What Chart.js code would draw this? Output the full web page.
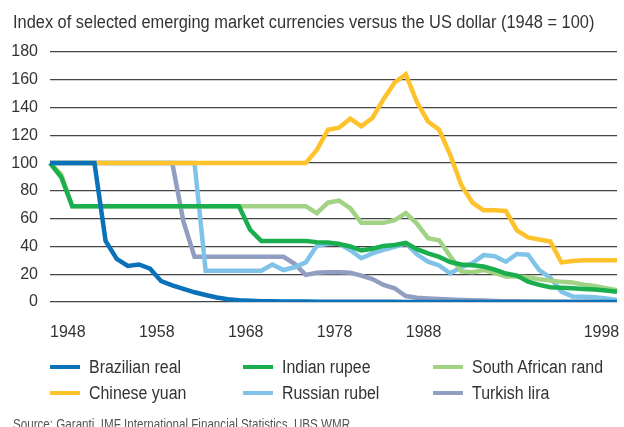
<!DOCTYPE html>
<html>
<head>
<meta charset="utf-8">
<script src="https://cdn.jsdelivr.net/npm/chart.js@4.4.0/dist/chart.umd.min.js"></script>
<style>
  html, body { margin: 0; padding: 0; background: #fff; }
  #wrap { position: relative; width: 624px; height: 427px; overflow: hidden; background: #fff; }
  #c { position: absolute; left: 0; top: 0; }
  .txt { position: absolute; font-family: 'Liberation Sans', Arial, sans-serif; color: #333; white-space: nowrap; line-height: 1; transform-origin: 0 0; }
  #title { left: 13px; top: 13px; font-size: 18px; transform: scaleX(0.91); }
  #source { left: 13px; top: 417px; font-size: 14px; color: #555; transform: scaleX(0.83); }
  .leg { position: absolute; height: 20px; }
  .leg .sw { position: absolute; left: 0; top: 8px; width: 30px; height: 4px; }
  .leg .lt { position: absolute; left: 39px; top: 1px; font-size: 18px; transform: scaleX(0.885); }
</style>
</head>
<body>
<div id="wrap">
  <canvas id="c" width="624" height="427" style="width:624px;height:427px"></canvas>
  <div id="title" class="txt">Index of selected emerging market currencies versus the US dollar (1948 = 100)</div>
  <div id="legend"></div>
  <div id="source" class="txt">Source: Garanti, IMF International Financial Statistics, UBS WMR</div>
</div>
<script>
// ---- Data ----
const categories = ['1948','','','','','','','','1958','','','','','','','','1968','','','','','','','','1978','','','','','','','','1988','','','','','','','','','','','','','','','','1998','','',''];

const seriesNames = ['Brazilian real','Indian rupee','South African rand','Chinese yuan','Russian rubel','Turkish lira'];

const brazilianReal = [100,100,100,100,100,44,31,26,27,24,15,12,9.5,7,5,3.3,2,1.3,0.9,0.6,0.5,0.4,0.3,0.3,0.2,0.2,0.2,0.1,0.1,0.1,0.1,0.1,0.05,0.05,0.05,0.05,0.02,0.02,0.02,0.02,0.01,0.01,0.01,0.01,0.01,0,0,0,0,0,0,0];

const indianRupee = [100,90,69,69,69,69,69,69,69,69,69,69,69,69,69,69,69,69,52,44,44,44,44,44,43,42.8,41.7,40,37.2,38.4,40.4,41,42.5,38,35,32.5,28.8,27,26.4,25.5,23.3,20.5,19,14.7,12.3,10.6,10.3,9.9,9.4,9,8.2,7.4];

const southAfricanRand = [100,92,69,69,69,69,69,69,69,69,69,69,69,69,69,69,69,69,69,69,69,69,69,69,64,71.5,73,67.5,57,57,57,59,64,56.5,46,44.5,33,22,21.5,23,21,18.3,18.3,17.8,16.4,15.5,14.5,14,12.5,11.5,10,8.5];

const chineseYuan = [100,100,100,100,100,100,100,100,100,100,100,100,100,100,100,100,100,100,100,100,100,100,100,100,109.5,124,125.5,132,126.5,132.5,146,158,164,144,130,124,106,84,71.5,66,66,65.5,51.5,46.5,45,43.5,28.5,29.5,30,30,30,30];

const russianRubel = [100,100,100,100,100,100,100,100,100,100,100,100,100,100,22.5,22.5,22.5,22.5,22.5,22.5,27,23,25,28.5,40.5,42,42,37.5,31.5,35,37.5,39.7,42.3,34.3,29,26.3,20.7,25,28,33.8,33,29,34.6,34,23,17.5,7.4,4,3.8,3.4,2.5,1.5];

const turkishLira = [100,100,100,100,100,100,100,100,100,100,100,100,58,32.5,32.5,32.5,32.5,32.5,32.5,32.5,32.5,32.5,27.5,19.5,21,21.5,21.5,21,19,16.5,12.3,9.9,4.3,3.1,2.6,2.2,1.8,1.5,1.2,1.0,0.8,0.6,0.5,0.4,0.3,0.2,0.2,0.1,0.1,0.1,0.05,0];

const yTicks = { min: 0, max: 180, step: 20 };

// ---- Styles ----
const colors = ['#0b71b9', '#1bae4e', '#a2d283', '#fec22d', '#80c3e9', '#919ec1'];
const FONT = "'Liberation Sans', Arial, sans-serif";
const values = [brazilianReal, indianRupee, southAfricanRand, chineseYuan, russianRubel, turkishLira];

const datasets = values.map((v, i) => ({
  label: seriesNames[i],
  data: v,
  borderColor: colors[i],
  backgroundColor: colors[i],
  borderWidth: 4.5,
  pointRadius: 0,
  tension: 0,
  fill: false
}));

new Chart(document.getElementById('c'), {
  type: 'line',
  data: { labels: categories, datasets },
  options: {
    responsive: false,
    devicePixelRatio: 1,
    animation: false,
    layout: { padding: { top: 52, right: 7, bottom: 85, left: 0 } },
    plugins: { legend: { display: false }, tooltip: { enabled: false }, title: { display: false } },
    scales: {
      x: {
        type: 'category',
        grid: { display: false, drawTicks: false },
        border: { display: false },
        ticks: {
          autoSkip: false, maxRotation: 0, minRotation: 0, align: 'start', padding: 21,
          color: '#333', font: { family: FONT, size: 16 },
          callback: (v, i) => categories[i]
        },
        afterFit: s => { s.height = 40; s.paddingLeft = 0; s.paddingRight = 0; }
      },
      y: {
        min: yTicks.min, max: yTicks.max,
        grid: { color: '#444', lineWidth: 1.3, drawTicks: false },
        border: { display: false },
        ticks: { stepSize: yTicks.step, padding: 12, color: '#333', font: { family: FONT, size: 16 } },
        afterFit: s => { s.width = 50; }
      }
    }
  }
});

// ---- HTML legend ----
const legend = document.getElementById('legend');
const colX = [50, 243, 433];
const rowY = [357, 383];
seriesNames.forEach((name, i) => {
  const d = document.createElement('div');
  d.className = 'leg';
  d.style.left = colX[i % 3] + 'px';
  d.style.top = rowY[Math.floor(i / 3)] + 'px';
  const sw = document.createElement('div');
  sw.className = 'sw';
  sw.style.background = colors[i];
  const t = document.createElement('div');
  t.className = 'lt txt';
  t.textContent = name;
  d.appendChild(sw); d.appendChild(t);
  legend.appendChild(d);
});
</script>
</body>
</html>
